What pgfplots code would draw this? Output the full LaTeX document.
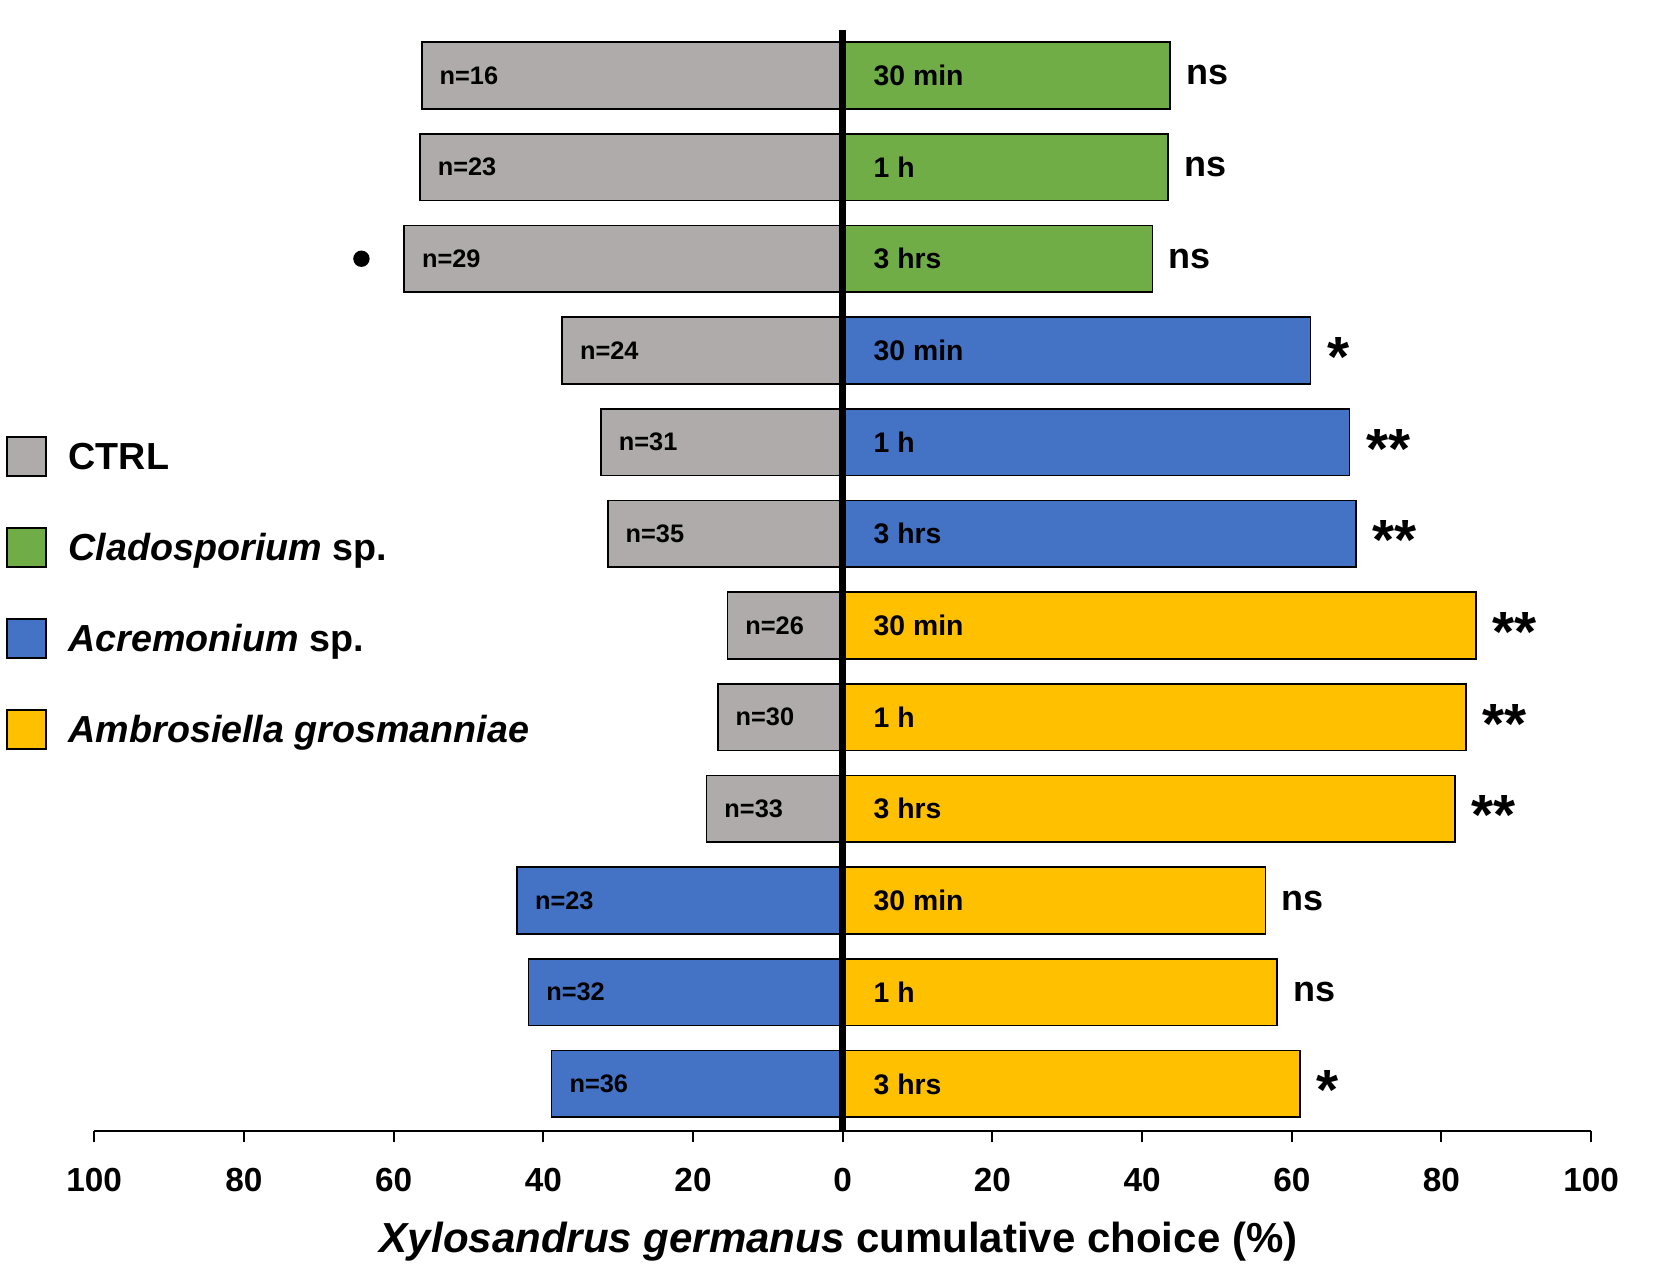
\documentclass[border=0pt]{standalone}
\usepackage{fontspec}
\setmainfont{Liberation Sans}
\usepackage{pgfplots}
\usepackage{pgfplotstable}
\pgfplotsset{compat=1.18}
\definecolor{cgray}{HTML}{AFABAB}
\definecolor{cgreen}{HTML}{70AD47}
\definecolor{cblue}{HTML}{4472C4}
\definecolor{cyellow}{HTML}{FFC000}

% left bars (negative = share choosing the left stimulus)
\pgfplotstableread{
y v
12 -56.25
11 -56.5
10 -58.6
9 -37.5
8 -32.3
7 -31.4
6 -15.4
5 -16.7
4 -18.2
}\ctrlL
\pgfplotstableread{
y v
3 -43.5
2 -42.0
1 -38.9
}\acreL
% right bars
\pgfplotstableread{
y v
12 43.75
11 43.5
10 41.4
}\cladR
\pgfplotstableread{
y v
9 62.5
8 67.7
7 68.6
}\acreR
\pgfplotstableread{
y v
6 84.6
5 83.3
4 81.8
3 56.5
2 58.0
1 61.1
}\ambrR

\tikzset{
  nl/.style={anchor=west, inner sep=0pt, xshift=5.2pt, font=\fontsize{7.6}{9}\selectfont\bfseries},
  tl/.style={anchor=west, inner sep=0pt, xshift=9.1pt, font=\fontsize{8.5}{10}\selectfont\bfseries},
  sl/.style={anchor=west, inner sep=0pt, xshift=4.7pt, font=\fontsize{10.8}{12}\selectfont\bfseries},
  al/.style={anchor=base west, inner sep=0pt, xshift=4.8pt, yshift=-7.8pt, font=\fontsize{17}{18}\selectfont\bfseries},
}
\pgfplotsset{hb/.style={xbar, bar width=0.727, bar shift=0pt, draw=black, line width=0.5pt}}

\begin{document}
\begin{tikzpicture}
\useasboundingbox (-28.26pt,-41.55pt) rectangle (467.84pt,339.15pt);
\begin{axis}[
  at={(0pt,0pt)}, anchor=south west,
  scale only axis, width=449pt, height=330.3pt,
  xmin=-100, xmax=100, ymin=0.49, ymax=12.5,
  axis x line*=bottom, axis y line=none,
  every outer x axis line/.append style={-},
  x axis line style={-, line width=0.6pt, black},
  xtick={-100,-80,...,100},
  xticklabels={100,80,60,40,20,0,20,40,60,80,100},
  tick align=outside, xtick pos=bottom,
  major tick length=3.4pt,
  xtick style={black, line width=0.6pt},
  ytick=\empty,
  xticklabel style={font=\fontsize{10}{11}\selectfont\bfseries, inner sep=0pt, anchor=north, yshift=-7.7pt},
  xlabel={{\itshape Xylosandrus germanus} cumulative choice (\%)},
  xlabel style={at={(rel axis cs:0.5,0)}, anchor=base, yshift=-36.4pt, xshift=-1.2pt, inner sep=0pt,
    font=\fontsize{12.6}{15}\selectfont\bfseries},
  clip=false,
  legend cell align=left,
  legend style={at={(rel axis cs:0,1)}, anchor=north west, xshift=-26.55pt, yshift=-121.86pt,
    draw=none, fill=none, inner sep=0pt, outer sep=0pt, row sep=15pt, column sep=6.6pt,
    nodes={inner sep=0pt, text height=8pt, text depth=0pt, font=\fontsize{11.3}{13}\selectfont\bfseries}},
  legend image code/.code={\draw[#1, draw=black, line width=0.6pt] (0pt,-5.85pt) rectangle (11.7pt,5.85pt);},
]
\addplot[hb, fill=cgray] table[x=v, y=y] {\ctrlL};
\addplot[hb, fill=cgreen] table[x=v, y=y] {\cladR};
\addplot[hb, fill=cblue] table[x=v, y=y] {\acreR};
\addplot[hb, fill=cyellow] table[x=v, y=y] {\ambrR};
\addplot[hb, fill=cblue, forget plot] table[x=v, y=y] {\acreL};
\legend{CTRL, {\itshape Cladosporium} sp., {\itshape Acremonium} sp., {\itshape Ambrosiella grosmanniae}}

\addplot[only marks, mark=*, mark size=2.25pt, black, forget plot] coordinates {(-64.3,10)};

\draw[line width=2pt] (axis cs:0,0.49) -- (axis cs:0,12.5);

% n labels
\node[nl] at (axis cs:-56.25,12) {n=16};
\node[nl] at (axis cs:-56.5,11) {n=23};
\node[nl] at (axis cs:-58.6,10) {n=29};
\node[nl] at (axis cs:-37.5,9) {n=24};
\node[nl] at (axis cs:-32.3,8) {n=31};
\node[nl] at (axis cs:-31.4,7) {n=35};
\node[nl] at (axis cs:-15.4,6) {n=26};
\node[nl] at (axis cs:-16.7,5) {n=30};
\node[nl] at (axis cs:-18.2,4) {n=33};
\node[nl] at (axis cs:-43.5,3) {n=23};
\node[nl] at (axis cs:-42.0,2) {n=32};
\node[nl] at (axis cs:-38.9,1) {n=36};
% time labels
\node[tl] at (axis cs:0,12) {30 min};
\node[tl] at (axis cs:0,11) {1 h};
\node[tl] at (axis cs:0,10) {3 hrs};
\node[tl] at (axis cs:0,9) {30 min};
\node[tl] at (axis cs:0,8) {1 h};
\node[tl] at (axis cs:0,7) {3 hrs};
\node[tl] at (axis cs:0,6) {30 min};
\node[tl] at (axis cs:0,5) {1 h};
\node[tl] at (axis cs:0,4) {3 hrs};
\node[tl] at (axis cs:0,3) {30 min};
\node[tl] at (axis cs:0,2) {1 h};
\node[tl] at (axis cs:0,1) {3 hrs};
% significance
\node[sl] at (axis cs:43.75,12) {ns};
\node[sl] at (axis cs:43.5,11) {ns};
\node[sl] at (axis cs:41.4,10) {ns};
\node[al] at (axis cs:62.5,9) {*};
\node[al] at (axis cs:67.7,8) {**};
\node[al] at (axis cs:68.6,7) {**};
\node[al] at (axis cs:84.6,6) {**};
\node[al] at (axis cs:83.3,5) {**};
\node[al] at (axis cs:81.8,4) {**};
\node[sl] at (axis cs:56.5,3) {ns};
\node[sl] at (axis cs:58.0,2) {ns};
\node[al] at (axis cs:61.1,1) {*};
\end{axis}
\end{tikzpicture}
\end{document}
